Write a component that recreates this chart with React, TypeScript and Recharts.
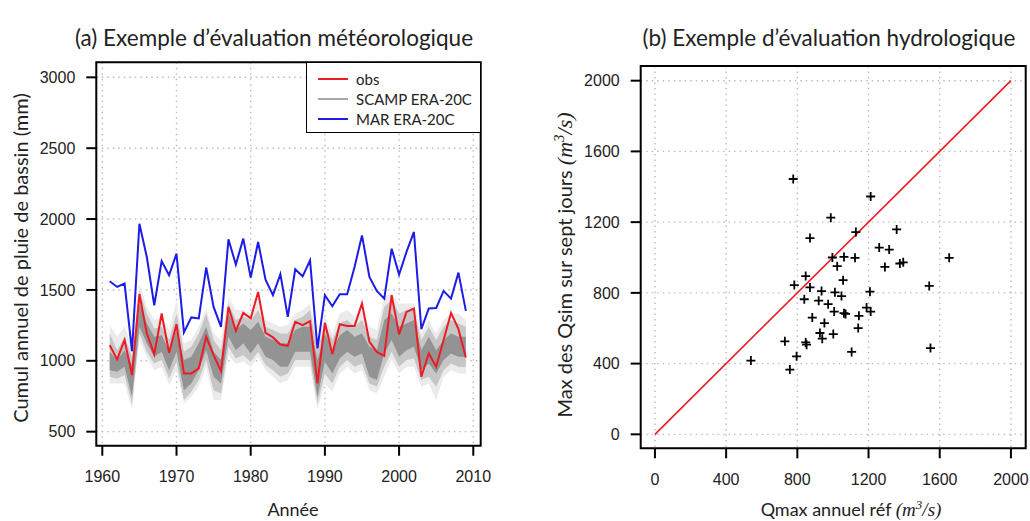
import React from "react";
import {
  Area,
  CartesianGrid,
  ComposedChart,
  Legend,
  Line,
  ReferenceArea,
  ReferenceLine,
  Scatter,
  ScatterChart,
  XAxis,
  YAxis,
} from "recharts";

// (a) annual basin rainfall, 1961-2009
const years = [
  1961, 1962, 1963, 1964, 1965, 1966, 1967, 1968, 1969, 1970,
  1971, 1972, 1973, 1974, 1975, 1976, 1977, 1978, 1979, 1980,
  1981, 1982, 1983, 1984, 1985, 1986, 1987, 1988, 1989, 1990,
  1991, 1992, 1993, 1994, 1995, 1996, 1997, 1998, 1999, 2000,
  2001, 2002, 2003, 2004, 2005, 2006, 2007, 2008, 2009,
];

const obs = [
  1110, 1010, 1146, 899, 1470, 1193, 1045, 1334, 1056, 1258,
  911, 911, 946, 1169, 1040, 927, 1380, 1211, 1338, 1299,
  1486, 1197, 1165, 1115, 1106, 1275, 1251, 1280, 841, 1268,
  1047, 1258, 1246, 1246, 1404, 1134, 1063, 1035, 1463, 1186,
  1345, 1369, 887, 1052, 958, 1146, 1338, 1223, 1024,
];

const marEra20c = [
  1561, 1521, 1545, 1068, 1967, 1732, 1392, 1704, 1604, 1756,
  1200, 1306, 1299, 1658, 1380, 1239, 1857, 1679, 1862, 1587,
  1838, 1573, 1463, 1611, 1310, 1646, 1596, 1709, 1087, 1463,
  1385, 1470, 1470, 1662, 1885, 1592, 1493, 1439, 1791, 1608,
  1768, 1909, 1223, 1369, 1373, 1493, 1439, 1622, 1352,
];

// SCAMP ERA-20C ensemble envelopes (outer, middle, inner)
const scampOuterLo = [
  840, 840, 840, 652, 1146, 1028, 934, 958, 829, 934,
  699, 746, 817, 958, 723, 723, 1040, 981, 993, 958,
  1028, 934, 887, 840, 864, 958, 958, 958, 652, 840,
  781, 911, 958, 911, 934, 793, 770, 887, 1005, 911,
  958, 958, 817, 840, 723, 887, 934, 911, 911,
];
const scampOuterHi = [
  1252, 1170, 1240, 1099, 1546, 1381, 1287, 1311, 1217, 1428,
  1123, 1146, 1240, 1369, 1193, 1146, 1452, 1358, 1358, 1334,
  1452, 1287, 1264, 1240, 1252, 1334, 1358, 1405, 1146, 1311,
  1193, 1334, 1358, 1311, 1358, 1240, 1217, 1452, 1475, 1405,
  1405, 1405, 1193, 1287, 1193, 1287, 1334, 1334, 1287,
];
const scampMidLo = [
  887, 876, 899, 699, 1193, 1064, 981, 1005, 876, 993,
  723, 781, 864, 1005, 793, 770, 1099, 1017, 1040, 993,
  1064, 970, 934, 887, 911, 1005, 1005, 1005, 699, 911,
  840, 958, 1005, 958, 981, 840, 817, 958, 1064, 958,
  1005, 1017, 864, 887, 817, 934, 981, 958, 958,
];
const scampMidHi = [
  1193, 1075, 1170, 1028, 1499, 1334, 1228, 1240, 1146, 1334,
  1064, 1099, 1193, 1334, 1146, 1075, 1405, 1287, 1311, 1287,
  1358, 1240, 1217, 1193, 1193, 1287, 1311, 1358, 1075, 1264,
  1146, 1264, 1287, 1240, 1287, 1170, 1146, 1381, 1428, 1334,
  1358, 1358, 1146, 1240, 1146, 1240, 1287, 1264, 1240,
];
const scampInnerLo = [
  934, 923, 958, 746, 1240, 1123, 1028, 1064, 934, 1064,
  793, 840, 934, 1075, 887, 840, 1170, 1075, 1123, 1052,
  1123, 1028, 1005, 958, 958, 1064, 1064, 1064, 746, 993,
  911, 1017, 1064, 1028, 1052, 887, 864, 1052, 1146, 1028,
  1075, 1099, 934, 981, 911, 1005, 1052, 1028, 1028,
];
const scampInnerHi = [
  1064, 1005, 1075, 970, 1405, 1264, 1170, 1181, 1075, 1217,
  1005, 1028, 1123, 1240, 1064, 1005, 1334, 1217, 1264, 1217,
  1275, 1170, 1146, 1123, 1123, 1217, 1240, 1240, 1005, 1193,
  1075, 1181, 1217, 1170, 1193, 1099, 1075, 1287, 1334, 1240,
  1264, 1287, 1075, 1170, 1075, 1146, 1193, 1170, 1170,
];

const yearTicks = [1960, 1970, 1980, 1990, 2000, 2010];
const rainTicks = [500, 1000, 1500, 2000, 2500, 3000];

const legendItems = [
  { label: "obs", color: "#ec1c24" },
  { label: "SCAMP ERA-20C", color: "#a8a8a8" },
  { label: "MAR ERA-20C", color: "#1c1ce6" },
];

// (b) annual max discharge: reference vs 7-day simulated max
const qmaxRef = [
  777, 988, 871, 997, 1024, 847, 783, 871, 936, 1011,
  839, 920, 973, 1007, 884, 952, 927, 1002, 940, 730,
  847, 852, 796, 539, 758, 1212, 1358, 1129, 1260, 1316,
  1062, 1124, 1653, 1292, 1376, 1395, 1057, 1541, 1048, 1208,
  1062, 1071, 1189, 1212, 1146, 1142, 1105, 1548,
];
const qsimMax = [
  1444, 1225, 1110, 1000, 951, 895, 844, 831, 810, 803,
  764, 756, 736, 694, 660, 629, 573, 567, 541, 526,
  520, 507, 441, 417, 366, 1345, 1159, 1144, 1056, 1045,
  1003, 998, 998, 947, 966, 973, 872, 839, 782, 807,
  685, 681, 717, 694, 670, 601, 466, 488,
];
const qTicks = [0, 400, 800, 1200, 1600, 2000];

const rainData = years.map((year, i) => ({
  year,
  obs: obs[i],
  mar: marEra20c[i],
  outer: [scampOuterLo[i], scampOuterHi[i]],
  mid: [scampMidLo[i], scampMidHi[i]],
  inner: [scampInnerLo[i], scampInnerHi[i]],
}));

const flowData = qmaxRef.map((x, i) => ({ x, y: qsimMax[i] }));

const tickFont = { fill: "#222", fontSize: 16, fontFamily: "'Liberation Sans', Arial, sans-serif" };
const labelFont = "Lato, 'Open Sans', sans-serif";
const mathFont = "'Liberation Serif', serif";

function Cross(props: any) {
  const { cx, cy } = props;
  if (cx == null || cy == null) return null;
  const r = 4.5;
  return (
    <path
      d={`M${cx - r},${cy}H${cx + r}M${cx},${cy - r}V${cy + r}`}
      stroke="#000"
      strokeWidth={1.8}
      fill="none"
    />
  );
}

function RainLegend() {
  return (
    <div
      style={{
        width: 175,
        height: 71,
        boxSizing: "border-box",
        border: "1.5px solid #000",
        background: "#fff",
        padding: "6px 0 0 11px",
        fontFamily: labelFont,
        fontSize: 15,
        color: "#222",
      }}
    >
      {legendItems.map((it) => (
        <div key={it.label} style={{ display: "flex", alignItems: "center", height: 20 }}>
          <span style={{ display: "inline-block", width: 30, height: 2, background: it.color, marginRight: 8 }} />
          <span>{it.label}</span>
        </div>
      ))}
    </div>
  );
}

export default function App() {
  return (
    <div style={{ position: "absolute", left: 0, top: 0, width: 1030, height: 521, background: "#fff" }}>
      <div style={{ position: "absolute", left: 0, top: 0 }}>
        <ComposedChart
          width={500}
          height={521}
          data={rainData}
          margin={{ top: 62.3, right: 19.3, bottom: 35.3, left: 36.3 }}
        >
          <CartesianGrid stroke="#bdbdbd" strokeDasharray="1.5 4" strokeWidth={1.4} />
          <XAxis
            dataKey="year"
            type="number"
            domain={[1959.19, 2011]}
            ticks={yearTicks}
            interval={0}
            allowDataOverflow
            height={40}
            axisLine={false}
            tickSize={10}
            tickMargin={15}
            tickLine={{ stroke: "#000", strokeWidth: 2 }}
            tick={tickFont}
          />
          <YAxis
            type="number"
            domain={[401, 3106]}
            ticks={rainTicks}
            interval={0}
            allowDataOverflow
            width={60}
            axisLine={false}
            tickSize={10}
            tickMargin={11}
            tickLine={{ stroke: "#000", strokeWidth: 2 }}
            tick={tickFont}
          />
          <Area dataKey="outer" type="linear" stroke="none" fill="#ebebeb" fillOpacity={1} isAnimationActive={false} />
          <Area dataKey="mid" type="linear" stroke="none" fill="#c6c6c6" fillOpacity={1} isAnimationActive={false} />
          <Area dataKey="inner" type="linear" stroke="none" fill="#939393" fillOpacity={1} isAnimationActive={false} />
          <Line dataKey="obs" type="linear" stroke="#ec1c24" strokeWidth={2} dot={false} isAnimationActive={false} />
          <Line dataKey="mar" type="linear" stroke="#1c1ce6" strokeWidth={2} dot={false} isAnimationActive={false} />
          <ReferenceArea
            x1={1959.19}
            x2={2011}
            y1={401}
            y2={3106}
            fill="none"
            stroke="#000"
            strokeWidth={2}
            ifOverflow="visible"
          />
          <Legend
            layout="vertical"
            align="center"
            verticalAlign="middle"
            content={() => <RainLegend />}
            wrapperStyle={{ left: 306, top: 62, width: 175, height: 71 }}
          />
        </ComposedChart>
      </div>

      <div style={{ position: "absolute", left: 520, top: 0 }}>
        <ScatterChart width={510} height={521} margin={{ top: 66, right: 4.3, bottom: 32.7, left: 60.7 }}>
          <CartesianGrid stroke="#bdbdbd" strokeDasharray="1.5 4" strokeWidth={1.4} />
          <XAxis
            dataKey="x"
            type="number"
            domain={[-80, 2083]}
            ticks={qTicks}
            interval={0}
            allowDataOverflow
            height={40}
            axisLine={false}
            tickSize={10}
            tickMargin={15}
            tickLine={{ stroke: "#000", strokeWidth: 2 }}
            tick={tickFont}
          />
          <YAxis
            dataKey="y"
            type="number"
            domain={[-79, 2083]}
            ticks={qTicks}
            interval={0}
            allowDataOverflow
            width={60}
            axisLine={false}
            tickSize={10}
            tickMargin={11}
            tickLine={{ stroke: "#000", strokeWidth: 2 }}
            tick={tickFont}
          />
          <ReferenceLine
            segment={[{ x: 0, y: 0 }, { x: 2000, y: 2000 }]}
            stroke="#ec1c24"
            strokeWidth={1.6}
          />
          <Scatter data={flowData} shape={<Cross />} isAnimationActive={false} />
          <ReferenceArea
            x1={-80}
            x2={2083}
            y1={-79}
            y2={2083}
            fill="none"
            stroke="#000"
            strokeWidth={2}
            ifOverflow="visible"
          />
        </ScatterChart>
      </div>

      <svg
        width={1030}
        height={521}
        style={{ position: "absolute", left: 0, top: 0, pointerEvents: "none" }}
      >
        <g fontFamily={labelFont} fill="#222">
          <text x={274} y={46} fontSize={22.5} textAnchor="middle">
            (a) Exemple d’évaluation météorologique
          </text>
          <text x={829} y={46} fontSize={22.5} textAnchor="middle">
            (b) Exemple d’évaluation hydrologique
          </text>
          <text x={293} y={516} fontSize={18} textAnchor="middle">
            Année
          </text>
          <text transform="translate(28,258) rotate(-90)" fontSize={20} textAnchor="middle">
            Cumul annuel de pluie de bassin (mm)
          </text>
          <text x={851} y={516} fontSize={18} textAnchor="middle">
            Qmax annuel réf{" "}
            <tspan fontFamily={mathFont} fontStyle="italic" fontSize={19}>
              (m<tspan dy={-7} fontSize={13}>3</tspan>
              <tspan dy={7}>/s)</tspan>
            </tspan>
          </text>
          <text transform="translate(572,265) rotate(-90)" fontSize={20} textAnchor="middle">
            Max des Qsim sur sept jours{" "}
            <tspan fontFamily={mathFont} fontStyle="italic" fontSize={22}>
              (m<tspan dy={-8} fontSize={15}>3</tspan>
              <tspan dy={8}>/s)</tspan>
            </tspan>
          </text>
        </g>
      </svg>
    </div>
  );
}
